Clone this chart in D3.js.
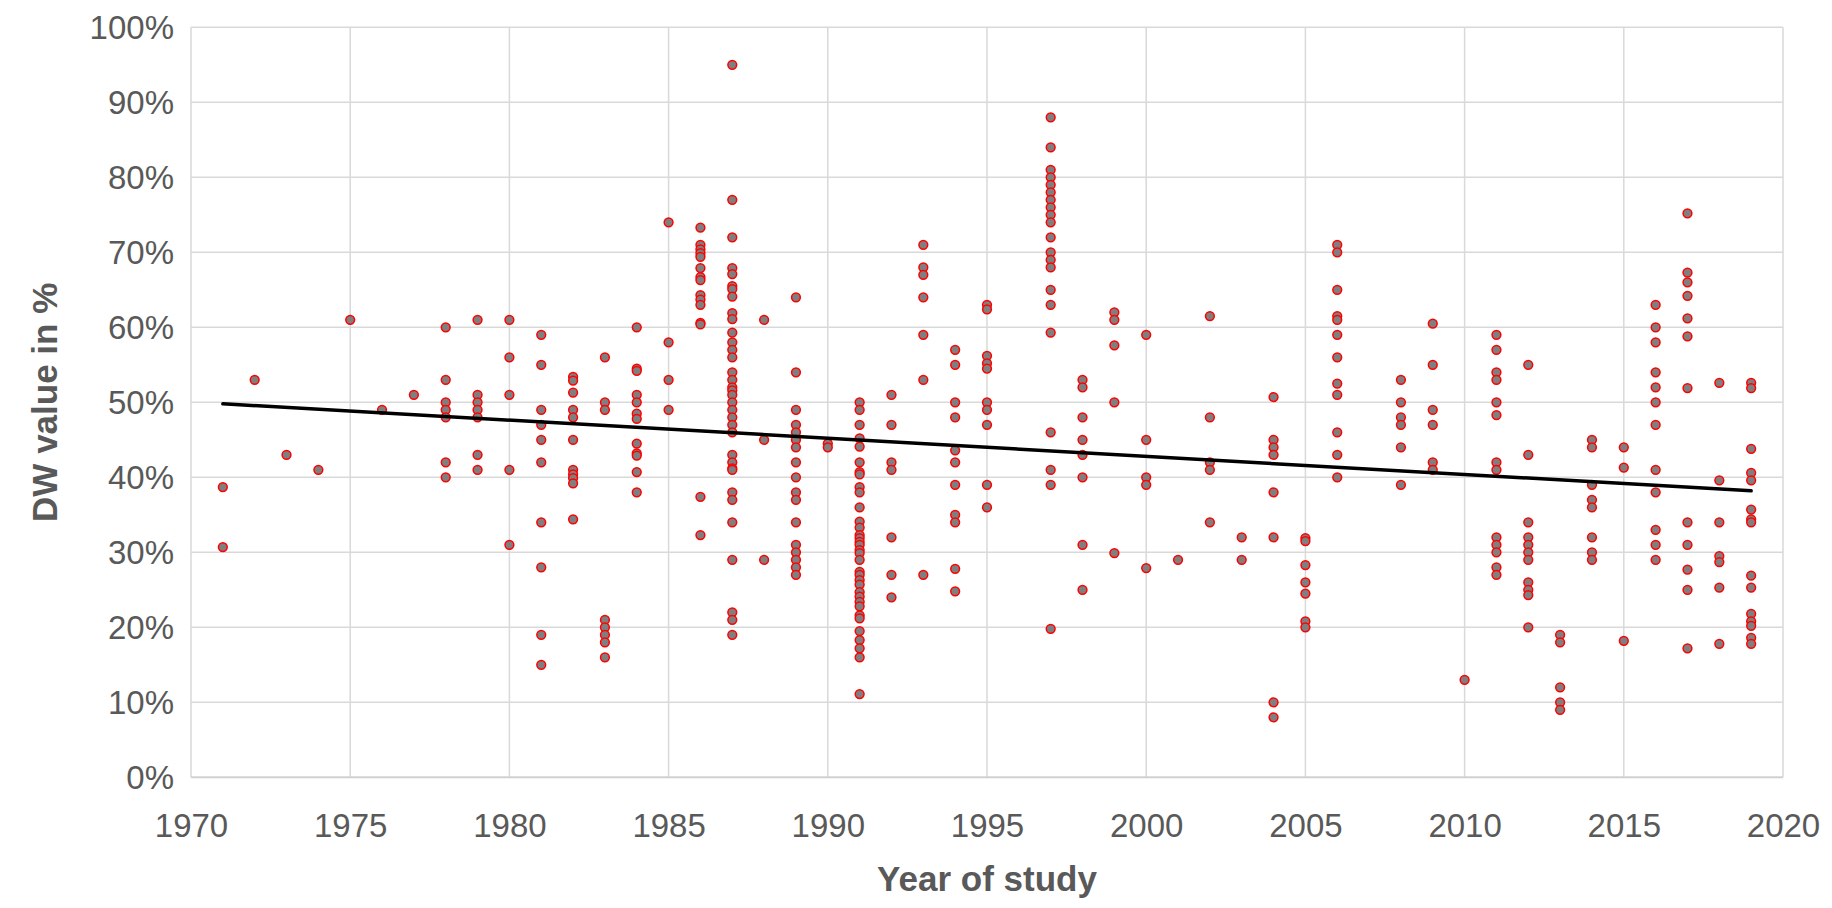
<!DOCTYPE html>
<html>
<head>
<meta charset="utf-8">
<script src="https://cdn.jsdelivr.net/npm/d3@7"></script>
<style>
  html, body { margin: 0; padding: 0; background: #ffffff; }
  svg { display: block; }
  text { font-family: "Liberation Sans", Arial, sans-serif; }
</style>
</head>
<body>
<svg id="chart" width="1832" height="908"></svg>
<script>
// ---- Data ----
const studyYears = [1971,1972,1973,1974,1975,1976,1977,1978,1979,1980,1981,1982,1983,1984,1985,1986,1987,1988,1989,1990,1991,1992,1993,1994,1995,1997,1998,1999,2000,2001,2002,2003,2004,2005,2006,2008,2009,2010,2011,2012,2013,2014,2015,2016,2017,2018,2019];
const dwValuesByYear = [
  [38.7, 30.7],
  [53],
  [43],
  [41],
  [61],
  [49],
  [51],
  [60, 53, 50, 49, 48, 42, 40],
  [61, 51, 50, 49, 48, 43, 41],
  [61, 56, 51, 41, 31],
  [59, 55, 49, 47, 45, 42, 34, 28, 19, 15],
  [53.4, 52.9, 51.3, 49, 48, 45, 41, 40.4, 39.9, 39.2, 34.4],
  [56, 50, 49, 21, 20, 19, 18, 16],
  [60, 54.5, 54.2, 51, 50, 48.5, 47.8, 44.5, 43.2, 42.9, 40.7, 38],
  [74, 58, 53, 49],
  [73.3, 71, 70.4, 69.9, 69.4, 67.9, 66.7, 66.3, 64.3, 63.7, 63, 60.6, 60.4, 37.4, 32.3],
  [95, 77, 72, 67.9, 67.1, 65.5, 65.1, 64.1, 61.9, 61.1, 59.3, 58, 57, 56, 54, 53, 52, 51.6, 51, 50, 49, 48, 47, 46, 43, 42, 41.2, 41, 38, 37, 34, 29, 22, 21, 19],
  [61, 45, 29],
  [64, 54, 49, 47, 46, 45, 44, 42, 40, 38, 37, 34, 31, 30, 29, 28, 27],
  [44.5, 44],
  [50, 49, 47, 45.2, 44.1, 42, 40.7, 40.4, 38.7, 38, 36, 34.1, 33.3, 32.3, 31.9, 31.4, 31, 30.3, 29.9, 29, 27.4, 27, 26.3, 25.7, 24.7, 24.1, 23.4, 22.8, 21.6, 21.2, 19.5, 18.3, 17.2, 16, 11.1],
  [51, 47, 42, 41, 32, 27, 24],
  [71, 68, 67, 64, 59, 53, 27],
  [57, 55, 50, 48, 43.6, 42, 39, 35, 34, 27.8, 24.8],
  [63, 62.4, 56.2, 55.2, 54.5, 50, 49, 47, 39, 36],
  [88, 84, 81, 80, 79, 78, 77, 76, 75, 74, 72, 70, 69, 68, 65, 63, 59.3, 46, 41, 39, 19.8],
  [53, 52, 48, 45, 43, 40, 31, 25],
  [62, 61, 57.6, 50, 29.9],
  [59, 45, 40, 39, 27.9],
  [29],
  [61.5, 48, 42, 41, 34],
  [32, 29],
  [50.7, 45, 44, 43, 38, 32, 10, 8],
  [31.9, 31.5, 28.3, 26, 24.5, 20.8, 20],
  [71, 70, 65, 61.5, 61, 59, 56, 52.5, 51, 46, 43, 40],
  [53, 50, 48, 47, 44, 39],
  [60.5, 55, 49, 47, 42, 41],
  [13],
  [59, 57, 54, 53, 50, 48.3, 42, 41, 32, 31, 30, 28, 27],
  [55, 43, 34, 32, 31, 30, 29, 26, 25, 24.3, 20],
  [19, 18, 12, 10, 9],
  [45, 44, 39, 37, 36, 32, 30, 29],
  [44, 41.3, 18.2],
  [63, 60, 58, 54, 52, 50, 47, 41, 38, 33, 31, 29],
  [75.2, 67.3, 66, 64.2, 61.2, 58.8, 51.9, 34, 31, 27.7, 25, 17.2],
  [52.6, 39.6, 34, 29.5, 28.7, 25.3, 17.8],
  [52.6, 51.9, 43.8, 40.6, 39.6, 35.7, 34.4, 34, 26.9, 25.3, 21.8, 20.8, 20.2, 18.6, 17.8]
];
// Linear trendline end points
const trendYears = [1971, 2019];
const trendValues = [49.8, 38.2];

const xTicks = [1970, 1975, 1980, 1985, 1990, 1995, 2000, 2005, 2010, 2015, 2020];
const yTicks = [0, 10, 20, 30, 40, 50, 60, 70, 80, 90, 100];
const xTitle = "Year of study";
const yTitle = "DW value in %";

// ---- Layout ----
const plot = { left: 191, right: 1783, top: 27.3, bottom: 777.3 };
const svg = d3.select("#chart");

const x = d3.scaleLinear().domain([1970, 2020]).range([plot.left, plot.right]);
const y = d3.scaleLinear().domain([0, 100]).range([plot.bottom, plot.top]);

const points = [];
studyYears.forEach((yr, i) => dwValuesByYear[i].forEach(v => points.push({ year: yr, value: v })));

// Gridlines
const grid = svg.append("g");
grid.selectAll("line.h").data(yTicks).join("line")
  .attr("x1", plot.left).attr("x2", plot.right)
  .attr("y1", d => y(d)).attr("y2", d => y(d))
  .attr("stroke", "#d9d9d9").attr("stroke-width", 1.5);
grid.selectAll("line.v").data(xTicks).join("line")
  .attr("y1", plot.top).attr("y2", plot.bottom)
  .attr("x1", d => x(d)).attr("x2", d => x(d))
  .attr("stroke", "#d9d9d9").attr("stroke-width", 1.5);
// bottom axis line
svg.append("line")
  .attr("x1", plot.left).attr("x2", plot.right)
  .attr("y1", y(0)).attr("y2", y(0))
  .attr("stroke", "#cfcfcf").attr("stroke-width", 1.8);

// Axes (labels only)
const xAxis = d3.axisBottom(x).tickValues(xTicks).tickFormat(d3.format("d")).tickSize(0).tickPadding(36);
const gx = svg.append("g").attr("transform", `translate(0,${plot.bottom})`).call(xAxis);
gx.select(".domain").remove();
gx.selectAll("text").attr("fill", "#595959").attr("font-size", 33)
  .attr("font-family", "'Liberation Sans', Arial, sans-serif").attr("dy", "0.71em");

const yAxis = d3.axisLeft(y).tickValues(yTicks).tickFormat(d => d + "%").tickSize(0).tickPadding(17);
const gy = svg.append("g").attr("transform", `translate(${plot.left},0)`).call(yAxis);
gy.select(".domain").remove();
gy.selectAll("text").attr("fill", "#595959").attr("font-size", 33)
  .attr("font-family", "'Liberation Sans', Arial, sans-serif").attr("dy", "0.35em");

// Points
svg.append("g").selectAll("circle").data(points).join("circle")
  .attr("cx", d => x(d.year)).attr("cy", d => y(d.value))
  .attr("r", 4.4)
  .attr("fill", "#7f7f7f").attr("stroke", "#ff0000").attr("stroke-width", 1.5);

// Trendline
const trend = trendYears.map((t, i) => ({ year: t, value: trendValues[i] }));
svg.append("path").datum(trend)
  .attr("d", d3.line().x(d => x(d.year)).y(d => y(d.value)))
  .attr("stroke", "#000000").attr("stroke-width", 3.5).attr("fill", "none")
  .attr("stroke-linecap", "round");

// Titles
svg.append("text")
  .attr("x", (plot.left + plot.right) / 2).attr("y", 891)
  .attr("text-anchor", "middle").attr("font-size", 35).attr("font-weight", "bold")
  .attr("fill", "#595959").text(xTitle);
svg.append("text")
  .attr("transform", `translate(57,${(plot.top + plot.bottom) / 2}) rotate(-90)`)
  .attr("text-anchor", "middle").attr("font-size", 35).attr("font-weight", "bold")
  .attr("fill", "#595959").text(yTitle);
</script>
</body>
</html>
